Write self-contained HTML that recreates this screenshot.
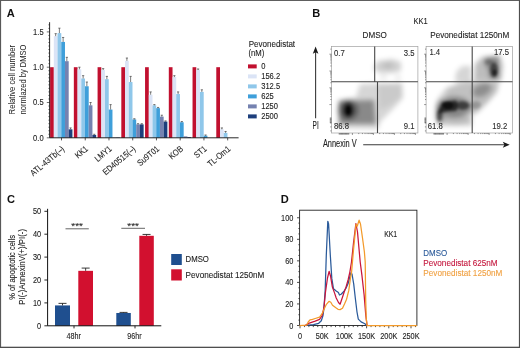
<!DOCTYPE html>
<html><head><meta charset="utf-8"><style>
html,body{margin:0;padding:0;background:#fff;}
svg{display:block;will-change:transform;}
</style></head><body>
<svg width="520" height="348" viewBox="0 0 520 348">
<rect x="0" y="0" width="520" height="348" fill="#fff"/>
<rect x="50.10" y="67.20" width="3.72" height="70.60" fill="#c1102f"/>
<rect x="53.82" y="36.14" width="3.72" height="101.66" fill="#dbe4f6"/>
<path d="M55.68 36.14V33.67M54.58 33.67H56.78" stroke="#333" stroke-width="0.75" fill="none" opacity="0.85"/>
<rect x="57.54" y="33.10" width="3.72" height="104.70" fill="#8fc7ea"/>
<path d="M59.40 33.10V28.16M58.30 28.16H60.50" stroke="#333" stroke-width="0.75" fill="none" opacity="0.85"/>
<rect x="61.26" y="41.93" width="3.72" height="95.87" fill="#3f9fda"/>
<path d="M63.12 41.93V37.48M62.02 37.48H64.22" stroke="#333" stroke-width="0.75" fill="none" opacity="0.85"/>
<rect x="64.98" y="61.20" width="3.72" height="76.60" fill="#7582b0"/>
<path d="M66.84 61.20V57.32M65.74 57.32H67.94" stroke="#333" stroke-width="0.75" fill="none" opacity="0.85"/>
<rect x="68.70" y="129.33" width="3.72" height="8.47" fill="#1d3f7c"/>
<path d="M70.56 129.33V127.92M69.46 127.92H71.66" stroke="#333" stroke-width="0.75" fill="none" opacity="0.85"/>
<rect x="73.84" y="67.20" width="3.72" height="70.60" fill="#c1102f"/>
<rect x="77.56" y="69.32" width="3.72" height="68.48" fill="#dbe4f6"/>
<path d="M79.42 69.32V67.20M78.32 67.20H80.52" stroke="#333" stroke-width="0.75" fill="none" opacity="0.85"/>
<rect x="81.28" y="78.50" width="3.72" height="59.30" fill="#8fc7ea"/>
<path d="M83.14 78.50V75.67M82.04 75.67H84.24" stroke="#333" stroke-width="0.75" fill="none" opacity="0.85"/>
<rect x="85.00" y="86.26" width="3.72" height="51.54" fill="#3f9fda"/>
<path d="M86.86 86.26V82.03M85.76 82.03H87.96" stroke="#333" stroke-width="0.75" fill="none" opacity="0.85"/>
<rect x="88.72" y="105.32" width="3.72" height="32.48" fill="#7582b0"/>
<path d="M90.58 105.32V102.50M89.48 102.50H91.68" stroke="#333" stroke-width="0.75" fill="none" opacity="0.85"/>
<rect x="92.44" y="134.98" width="3.72" height="2.82" fill="#1d3f7c"/>
<path d="M94.30 134.98V134.27M93.20 134.27H95.40" stroke="#333" stroke-width="0.75" fill="none" opacity="0.85"/>
<rect x="97.58" y="67.20" width="3.72" height="70.60" fill="#c1102f"/>
<rect x="101.30" y="70.02" width="3.72" height="67.78" fill="#dbe4f6"/>
<path d="M103.16 70.02V68.61M102.06 68.61H104.26" stroke="#333" stroke-width="0.75" fill="none" opacity="0.85"/>
<rect x="105.02" y="79.20" width="3.72" height="58.60" fill="#8fc7ea"/>
<path d="M106.88 79.20V76.38M105.78 76.38H107.98" stroke="#333" stroke-width="0.75" fill="none" opacity="0.85"/>
<rect x="108.74" y="109.56" width="3.72" height="28.24" fill="#3f9fda"/>
<path d="M110.60 109.56V104.62M109.50 104.62H111.70" stroke="#333" stroke-width="0.75" fill="none" opacity="0.85"/>
<rect x="112.46" y="137.45" width="3.72" height="0.35" fill="#7582b0"/>
<rect x="116.18" y="137.45" width="3.72" height="0.35" fill="#1d3f7c"/>
<rect x="121.32" y="67.20" width="3.72" height="70.60" fill="#c1102f"/>
<rect x="125.04" y="60.85" width="3.72" height="76.95" fill="#dbe4f6"/>
<path d="M126.90 60.85V58.02M125.80 58.02H128.00" stroke="#333" stroke-width="0.75" fill="none" opacity="0.85"/>
<rect x="128.76" y="82.03" width="3.72" height="55.77" fill="#8fc7ea"/>
<path d="M130.62 82.03V76.38M129.52 76.38H131.72" stroke="#333" stroke-width="0.75" fill="none" opacity="0.85"/>
<rect x="132.48" y="119.44" width="3.72" height="18.36" fill="#3f9fda"/>
<path d="M134.34 119.44V118.74M133.24 118.74H135.44" stroke="#333" stroke-width="0.75" fill="none" opacity="0.85"/>
<rect x="136.20" y="124.39" width="3.72" height="13.41" fill="#7582b0"/>
<path d="M138.06 124.39V123.68M136.96 123.68H139.16" stroke="#333" stroke-width="0.75" fill="none" opacity="0.85"/>
<rect x="139.92" y="124.39" width="3.72" height="13.41" fill="#1d3f7c"/>
<path d="M141.78 124.39V123.68M140.68 123.68H142.88" stroke="#333" stroke-width="0.75" fill="none" opacity="0.85"/>
<rect x="145.06" y="67.20" width="3.72" height="70.60" fill="#c1102f"/>
<rect x="148.78" y="94.73" width="3.72" height="43.07" fill="#dbe4f6"/>
<path d="M150.64 94.73V91.91M149.54 91.91H151.74" stroke="#333" stroke-width="0.75" fill="none" opacity="0.85"/>
<rect x="152.50" y="105.32" width="3.72" height="32.48" fill="#8fc7ea"/>
<path d="M154.36 105.32V104.62M153.26 104.62H155.46" stroke="#333" stroke-width="0.75" fill="none" opacity="0.85"/>
<rect x="156.22" y="108.15" width="3.72" height="29.65" fill="#3f9fda"/>
<path d="M158.08 108.15V107.44M156.98 107.44H159.18" stroke="#333" stroke-width="0.75" fill="none" opacity="0.85"/>
<rect x="159.94" y="116.62" width="3.72" height="21.18" fill="#7582b0"/>
<path d="M161.80 116.62V115.21M160.70 115.21H162.90" stroke="#333" stroke-width="0.75" fill="none" opacity="0.85"/>
<rect x="163.66" y="121.56" width="3.72" height="16.24" fill="#1d3f7c"/>
<path d="M165.52 121.56V120.86M164.42 120.86H166.62" stroke="#333" stroke-width="0.75" fill="none" opacity="0.85"/>
<rect x="168.80" y="67.20" width="3.72" height="70.60" fill="#c1102f"/>
<rect x="172.52" y="77.08" width="3.72" height="60.72" fill="#dbe4f6"/>
<path d="M174.38 77.08V75.67M173.28 75.67H175.48" stroke="#333" stroke-width="0.75" fill="none" opacity="0.85"/>
<rect x="176.24" y="94.03" width="3.72" height="43.77" fill="#8fc7ea"/>
<path d="M178.10 94.03V91.91M177.00 91.91H179.20" stroke="#333" stroke-width="0.75" fill="none" opacity="0.85"/>
<rect x="179.96" y="122.27" width="3.72" height="15.53" fill="#3f9fda"/>
<path d="M181.82 122.27V121.56M180.72 121.56H182.92" stroke="#333" stroke-width="0.75" fill="none" opacity="0.85"/>
<rect x="183.68" y="136.39" width="3.72" height="1.41" fill="#7582b0"/>
<rect x="187.40" y="137.09" width="3.72" height="0.71" fill="#1d3f7c"/>
<rect x="192.54" y="67.20" width="3.72" height="70.60" fill="#c1102f"/>
<rect x="196.26" y="70.02" width="3.72" height="67.78" fill="#dbe4f6"/>
<path d="M198.12 70.02V68.97M197.02 68.97H199.22" stroke="#333" stroke-width="0.75" fill="none" opacity="0.85"/>
<rect x="199.98" y="91.91" width="3.72" height="45.89" fill="#8fc7ea"/>
<path d="M201.84 91.91V89.79M200.74 89.79H202.94" stroke="#333" stroke-width="0.75" fill="none" opacity="0.85"/>
<rect x="203.70" y="135.68" width="3.72" height="2.12" fill="#3f9fda"/>
<path d="M205.56 135.68V134.98M204.46 134.98H206.66" stroke="#333" stroke-width="0.75" fill="none" opacity="0.85"/>
<rect x="216.28" y="67.20" width="3.72" height="70.60" fill="#c1102f"/>
<rect x="220.00" y="129.33" width="3.72" height="8.47" fill="#dbe4f6"/>
<path d="M221.86 129.33V127.92M220.76 127.92H222.96" stroke="#333" stroke-width="0.75" fill="none" opacity="0.85"/>
<rect x="223.72" y="132.86" width="3.72" height="4.94" fill="#8fc7ea"/>
<path d="M225.58 132.86V131.45M224.48 131.45H226.68" stroke="#333" stroke-width="0.75" fill="none" opacity="0.85"/>
<path d="M49.6 22.2V137.8H238.6" stroke="#111" stroke-width="0.9" fill="none"/>
<path d="M46.80 137.80H49.6M48.40 134.27H49.6M48.40 130.74H49.6M48.40 127.21H49.6M48.40 123.68H49.6M48.40 120.15H49.6M48.40 116.62H49.6M48.40 113.09H49.6M48.40 109.56H49.6M48.40 106.03H49.6M46.80 102.50H49.6M48.40 98.97H49.6M48.40 95.44H49.6M48.40 91.91H49.6M48.40 88.38H49.6M48.40 84.85H49.6M48.40 81.32H49.6M48.40 77.79H49.6M48.40 74.26H49.6M48.40 70.73H49.6M46.80 67.20H49.6M48.40 63.67H49.6M48.40 60.14H49.6M48.40 56.61H49.6M48.40 53.08H49.6M48.40 49.55H49.6M48.40 46.02H49.6M48.40 42.49H49.6M48.40 38.96H49.6M48.40 35.43H49.6M46.80 31.90H49.6M48.40 28.37H49.6M48.40 24.84H49.6" stroke="#111" stroke-width="0.6" fill="none"/>
<text transform="translate(43.60,140.50)" font-size="8.4" text-anchor="end" fill="#222" font-family="Liberation Sans, sans-serif" textLength="10.51" lengthAdjust="spacingAndGlyphs" stroke="#222" stroke-width="0.1">0.0</text>
<text transform="translate(43.60,105.20)" font-size="8.4" text-anchor="end" fill="#222" font-family="Liberation Sans, sans-serif" textLength="10.51" lengthAdjust="spacingAndGlyphs" stroke="#222" stroke-width="0.1">0.5</text>
<text transform="translate(43.60,69.90)" font-size="8.4" text-anchor="end" fill="#222" font-family="Liberation Sans, sans-serif" textLength="10.51" lengthAdjust="spacingAndGlyphs" stroke="#222" stroke-width="0.1">1.0</text>
<text transform="translate(43.60,34.60)" font-size="8.4" text-anchor="end" fill="#222" font-family="Liberation Sans, sans-serif" textLength="10.51" lengthAdjust="spacingAndGlyphs" stroke="#222" stroke-width="0.1">1.5</text>
<path d="M61.50 137.8V140.4M85.24 137.8V140.4M108.98 137.8V140.4M132.72 137.8V140.4M156.46 137.8V140.4M180.20 137.8V140.4M203.94 137.8V140.4M227.68 137.8V140.4" stroke="#111" stroke-width="0.7" fill="none"/>
<text transform="translate(65.00,149.80) rotate(-40)" font-size="8.8" text-anchor="end" fill="#222" font-family="Liberation Sans, sans-serif" textLength="41.35" lengthAdjust="spacingAndGlyphs" stroke="#222" stroke-width="0.1">ATL-43Tb(–)</text>
<text transform="translate(88.74,149.80) rotate(-40)" font-size="8.8" text-anchor="end" fill="#222" font-family="Liberation Sans, sans-serif" textLength="13.97" lengthAdjust="spacingAndGlyphs" stroke="#222" stroke-width="0.1">KK1</text>
<text transform="translate(112.48,149.80) rotate(-40)" font-size="8.8" text-anchor="end" fill="#222" font-family="Liberation Sans, sans-serif" textLength="19.31" lengthAdjust="spacingAndGlyphs" stroke="#222" stroke-width="0.1">LMY1</text>
<text transform="translate(136.22,149.80) rotate(-40)" font-size="8.8" text-anchor="end" fill="#222" font-family="Liberation Sans, sans-serif" textLength="39.86" lengthAdjust="spacingAndGlyphs" stroke="#222" stroke-width="0.1">ED40515(–)</text>
<text transform="translate(159.96,149.80) rotate(-40)" font-size="8.8" text-anchor="end" fill="#222" font-family="Liberation Sans, sans-serif" textLength="25.89" lengthAdjust="spacingAndGlyphs" stroke="#222" stroke-width="0.1">Su9T01</text>
<text transform="translate(183.70,149.80) rotate(-40)" font-size="8.8" text-anchor="end" fill="#222" font-family="Liberation Sans, sans-serif" textLength="15.61" lengthAdjust="spacingAndGlyphs" stroke="#222" stroke-width="0.1">KOB</text>
<text transform="translate(207.44,149.80) rotate(-40)" font-size="8.8" text-anchor="end" fill="#222" font-family="Liberation Sans, sans-serif" textLength="13.56" lengthAdjust="spacingAndGlyphs" stroke="#222" stroke-width="0.1">ST1</text>
<text transform="translate(231.18,149.80) rotate(-40)" font-size="8.8" text-anchor="end" fill="#222" font-family="Liberation Sans, sans-serif" textLength="27.10" lengthAdjust="spacingAndGlyphs" stroke="#222" stroke-width="0.1">TL-Om1</text>
<text transform="translate(15.2,114.4) rotate(-90)" font-size="8.8" fill="#222" font-family="Liberation Sans, sans-serif" textLength="69.4" lengthAdjust="spacingAndGlyphs">Relative cell number</text>
<text transform="translate(25.9,114.4) rotate(-90)" font-size="8.8" fill="#222" font-family="Liberation Sans, sans-serif" textLength="69.7" lengthAdjust="spacingAndGlyphs">normlazed by DMSO</text>
<text transform="translate(248.70,46.50)" font-size="8.4" text-anchor="start" fill="#222" font-family="Liberation Sans, sans-serif" textLength="46.40" lengthAdjust="spacingAndGlyphs" stroke="#222" stroke-width="0.1">Pevonedistat</text>
<text transform="translate(248.50,56.00)" font-size="8.4" text-anchor="start" fill="#222" font-family="Liberation Sans, sans-serif" textLength="15.88" lengthAdjust="spacingAndGlyphs" stroke="#222" stroke-width="0.1">(nM)</text>
<rect x="248" y="64.40" width="8.7" height="4" fill="#c1102f"/>
<text transform="translate(261.20,69.40)" font-size="8.4" text-anchor="start" fill="#222" font-family="Liberation Sans, sans-serif" textLength="4.20" lengthAdjust="spacingAndGlyphs" stroke="#222" stroke-width="0.1">0</text>
<rect x="248" y="74.40" width="8.7" height="4" fill="#dbe4f6"/>
<text transform="translate(261.20,79.40)" font-size="8.4" text-anchor="start" fill="#222" font-family="Liberation Sans, sans-serif" textLength="18.92" lengthAdjust="spacingAndGlyphs" stroke="#222" stroke-width="0.1">156.2</text>
<rect x="248" y="84.40" width="8.7" height="4" fill="#8fc7ea"/>
<text transform="translate(261.20,89.40)" font-size="8.4" text-anchor="start" fill="#222" font-family="Liberation Sans, sans-serif" textLength="18.92" lengthAdjust="spacingAndGlyphs" stroke="#222" stroke-width="0.1">312.5</text>
<rect x="248" y="94.40" width="8.7" height="4" fill="#3f9fda"/>
<text transform="translate(261.20,99.40)" font-size="8.4" text-anchor="start" fill="#222" font-family="Liberation Sans, sans-serif" textLength="12.61" lengthAdjust="spacingAndGlyphs" stroke="#222" stroke-width="0.1">625</text>
<rect x="248" y="104.40" width="8.7" height="4" fill="#7582b0"/>
<text transform="translate(261.20,109.40)" font-size="8.4" text-anchor="start" fill="#222" font-family="Liberation Sans, sans-serif" textLength="16.82" lengthAdjust="spacingAndGlyphs" stroke="#222" stroke-width="0.1">1250</text>
<rect x="248" y="114.40" width="8.7" height="4" fill="#1d3f7c"/>
<text transform="translate(261.20,119.40)" font-size="8.4" text-anchor="start" fill="#222" font-family="Liberation Sans, sans-serif" textLength="16.82" lengthAdjust="spacingAndGlyphs" stroke="#222" stroke-width="0.1">2500</text>
<text x="6.8" y="16.8" font-size="11.1" font-weight="bold" fill="#111" font-family="Liberation Sans, sans-serif">A</text>
<text x="312.3" y="16.7" font-size="11.1" font-weight="bold" fill="#111" font-family="Liberation Sans, sans-serif">B</text>
<text x="7.0" y="202.6" font-size="11.1" font-weight="bold" fill="#111" font-family="Liberation Sans, sans-serif">C</text>
<text x="280.7" y="202.6" font-size="11.1" font-weight="bold" fill="#111" font-family="Liberation Sans, sans-serif">D</text>
<defs>
<filter id="blur3" x="-50%" y="-50%" width="200%" height="200%"><feGaussianBlur stdDeviation="2.6"/></filter>
<filter id="blur2" x="-50%" y="-50%" width="200%" height="200%"><feGaussianBlur stdDeviation="1.8"/></filter>
<filter id="blur1" x="-50%" y="-50%" width="200%" height="200%"><feGaussianBlur stdDeviation="1.1"/></filter>
<clipPath id="cp1"><rect x="331.5" y="46.5" width="86.3" height="86.4"/></clipPath>
<clipPath id="cp2"><rect x="426.2" y="46.5" width="86.2" height="86.4"/></clipPath>
</defs>
<g clip-path="url(#cp1)">
<g filter="url(#blur3)" fill="#000">
<path d="M373 69 L377 61 L392 59 L401 62 L401 71 L393 73 L380 73Z" fill-opacity="0.18"/>
<ellipse cx="388" cy="65.5" rx="6" ry="3" fill-opacity="0.1"/>
<ellipse cx="383.5" cy="77" rx="3.5" ry="2.2" fill-opacity="0.1"/>
<ellipse cx="398" cy="77.5" rx="3" ry="2.2" fill-opacity="0.1"/>
<path d="M338 128 L338 100 L356 97 L360 84 L402 83 L403 98 L394 108 L380 122 L378 129Z" fill-opacity="0.16"/>
<path d="M378 84 L402 84 L402 96 L392 104 L380 110Z" fill-opacity="0.06"/>
<path d="M339 124 L339 101 L374 100 L376 124Z" fill-opacity="0.36"/>
<ellipse cx="348" cy="110" rx="10" ry="10" fill-opacity="0.4"/>
</g>
<g filter="url(#blur2)" fill="#000">
<ellipse cx="348.3" cy="110" rx="5.2" ry="7.2" fill-opacity="0.48"/>
</g>
<g filter="url(#blur1)" fill="#000">
<ellipse cx="348.3" cy="110.3" rx="2.6" ry="4.2" fill-opacity="0.85"/>
</g>
</g>
<g clip-path="url(#cp2)">
<g filter="url(#blur3)" fill="#000">
<path d="M474 81 L475 64 L482 57 L500 55 L503 66 L501 81Z" fill-opacity="0.26"/>
<path d="M485 58 L498 57 L499 78 L490 79 L488 68 L485 65Z" fill-opacity="0.32"/>
<path d="M455 82 L456 72 L462 66 L471 66 L471 82Z" fill-opacity="0.16"/>
<path d="M437 126 L437 100 L446 88 L460 83 L472 82 L472 126Z" fill-opacity="0.18"/>
<path d="M446 100 L448 88 L460 83 L472 82 L472 100Z" fill-opacity="0.08"/>
<path d="M472 82 L499 82 L497 92 L488 102 L478 112 L472 115Z" fill-opacity="0.26"/>
<ellipse cx="482" cy="90" rx="10" ry="6" transform="rotate(-25 482 90)" fill-opacity="0.25"/>
<ellipse cx="454" cy="107" rx="18" ry="10" fill-opacity="0.35"/>
<ellipse cx="456" cy="119" rx="14" ry="5" fill-opacity="0.12"/>
<ellipse cx="439.5" cy="115" rx="4" ry="8" fill-opacity="0.35"/>
</g>
<g filter="url(#blur2)" fill="#000">
<ellipse cx="494" cy="70" rx="4" ry="7.5" fill-opacity="0.5"/>
<ellipse cx="488.5" cy="62" rx="4" ry="2.8" fill-opacity="0.18"/>
<path d="M438 113 L442 102 L455 100.5 L457 101 L457 110.5 L455 111 L444 112Z" fill-opacity="0.7"/>
<ellipse cx="462.5" cy="105.5" rx="7" ry="4.2" fill-opacity="0.55"/>
<ellipse cx="476" cy="105" rx="5" ry="4" fill-opacity="0.2"/>
<ellipse cx="439.5" cy="116" rx="2.6" ry="5.5" fill-opacity="0.48"/>
</g>
<g filter="url(#blur1)" fill="#000">
<ellipse cx="448" cy="105.5" rx="5.5" ry="3.5" fill-opacity="0.6"/>
<ellipse cx="494.5" cy="72.5" rx="2" ry="3" fill-opacity="0.5"/>
</g>
</g>
<rect x="331.4" y="46.4" width="86.5" height="86.6" fill="none" stroke="#a0a0a0" stroke-width="0.7"/>
<path d="M339.20 133.00v1.6M340.00 133.00v1.6M340.80 133.00v1.6M341.60 133.00v1.6M342.40 133.00v1.6M343.20 133.00v1.6M344.00 133.00v1.6M344.80 133.00v1.6M345.60 133.00v1.6M346.40 133.00v1.6M347.20 133.00v1.6M348.00 133.00v1.6M348.80 133.00v1.6M352.40 133.00v2.0M358.72 133.00v1.1M362.42 133.00v1.1M365.04 133.00v1.1M367.08 133.00v1.1M368.74 133.00v1.1M370.15 133.00v1.1M371.36 133.00v1.1M372.44 133.00v1.1M373.40 133.00v2.0M379.72 133.00v1.1M383.42 133.00v1.1M386.04 133.00v1.1M388.08 133.00v1.1M389.74 133.00v1.1M391.15 133.00v1.1M392.36 133.00v1.1M393.44 133.00v1.1M394.40 133.00v2.0M400.72 133.00v1.1M404.42 133.00v1.1M407.04 133.00v1.1M409.08 133.00v1.1M410.74 133.00v1.1M412.15 133.00v1.1M413.36 133.00v1.1M414.44 133.00v1.1M415.40 133.00v2.0M331.40 117.90h-1.6M331.40 118.70h-1.6M331.40 119.50h-1.6M331.40 120.30h-1.6M331.40 121.10h-1.6M331.40 121.90h-1.6M331.40 122.70h-1.6M331.40 104.60h-2.0M331.40 99.54h-1.1M331.40 96.58h-1.1M331.40 94.49h-1.1M331.40 92.86h-1.1M331.40 91.53h-1.1M331.40 90.40h-1.1M331.40 89.43h-1.1M331.40 88.57h-1.1M331.40 87.80h-2.0M331.40 82.74h-1.1M331.40 79.78h-1.1M331.40 77.69h-1.1M331.40 76.06h-1.1M331.40 74.73h-1.1M331.40 73.60h-1.1M331.40 72.63h-1.1M331.40 71.77h-1.1M331.40 71.00h-2.0M331.40 65.94h-1.1M331.40 62.98h-1.1M331.40 60.89h-1.1M331.40 59.26h-1.1M331.40 57.93h-1.1M331.40 56.80h-1.1M331.40 55.83h-1.1M331.40 54.97h-1.1M331.40 54.20h-2.0M331.40 49.14h-1.1M331.40 122.90h-1.2M331.40 126.90h-1.2M331.40 130.90h-1.2" stroke="#333" stroke-width="0.5" fill="none"/>
<path d="M374.7 46.4V81.7M331.4 81.7H417.9M377.5 81.7V133.0" stroke="#474747" stroke-width="1.1" fill="none"/>
<text transform="translate(334.00,55.50)" font-size="8.4" text-anchor="start" fill="#2a2a2a" font-family="Liberation Sans, sans-serif" textLength="10.74" lengthAdjust="spacingAndGlyphs" stroke="#2a2a2a" stroke-width="0.1">0.7</text>
<text transform="translate(414.50,55.50)" font-size="8.4" text-anchor="end" fill="#2a2a2a" font-family="Liberation Sans, sans-serif" textLength="10.74" lengthAdjust="spacingAndGlyphs" stroke="#2a2a2a" stroke-width="0.1">3.5</text>
<text transform="translate(334.00,128.60)" font-size="8.4" text-anchor="start" fill="#2a2a2a" font-family="Liberation Sans, sans-serif" textLength="15.04" lengthAdjust="spacingAndGlyphs" stroke="#2a2a2a" stroke-width="0.1">86.8</text>
<text transform="translate(414.50,128.60)" font-size="8.4" text-anchor="end" fill="#2a2a2a" font-family="Liberation Sans, sans-serif" textLength="10.74" lengthAdjust="spacingAndGlyphs" stroke="#2a2a2a" stroke-width="0.1">9.1</text>
<rect x="426.1" y="46.4" width="86.4" height="86.6" fill="none" stroke="#a0a0a0" stroke-width="0.7"/>
<path d="M433.90 133.00v1.6M434.70 133.00v1.6M435.50 133.00v1.6M436.30 133.00v1.6M437.10 133.00v1.6M437.90 133.00v1.6M438.70 133.00v1.6M439.50 133.00v1.6M440.30 133.00v1.6M441.10 133.00v1.6M441.90 133.00v1.6M442.70 133.00v1.6M443.50 133.00v1.6M447.10 133.00v2.0M453.42 133.00v1.1M457.12 133.00v1.1M459.74 133.00v1.1M461.78 133.00v1.1M463.44 133.00v1.1M464.85 133.00v1.1M466.06 133.00v1.1M467.14 133.00v1.1M468.10 133.00v2.0M474.42 133.00v1.1M478.12 133.00v1.1M480.74 133.00v1.1M482.78 133.00v1.1M484.44 133.00v1.1M485.85 133.00v1.1M487.06 133.00v1.1M488.14 133.00v1.1M489.10 133.00v2.0M495.42 133.00v1.1M499.12 133.00v1.1M501.74 133.00v1.1M503.78 133.00v1.1M505.44 133.00v1.1M506.85 133.00v1.1M508.06 133.00v1.1M509.14 133.00v1.1M510.10 133.00v2.0M426.10 117.90h-1.6M426.10 118.70h-1.6M426.10 119.50h-1.6M426.10 120.30h-1.6M426.10 121.10h-1.6M426.10 121.90h-1.6M426.10 122.70h-1.6M426.10 104.60h-2.0M426.10 99.54h-1.1M426.10 96.58h-1.1M426.10 94.49h-1.1M426.10 92.86h-1.1M426.10 91.53h-1.1M426.10 90.40h-1.1M426.10 89.43h-1.1M426.10 88.57h-1.1M426.10 87.80h-2.0M426.10 82.74h-1.1M426.10 79.78h-1.1M426.10 77.69h-1.1M426.10 76.06h-1.1M426.10 74.73h-1.1M426.10 73.60h-1.1M426.10 72.63h-1.1M426.10 71.77h-1.1M426.10 71.00h-2.0M426.10 65.94h-1.1M426.10 62.98h-1.1M426.10 60.89h-1.1M426.10 59.26h-1.1M426.10 57.93h-1.1M426.10 56.80h-1.1M426.10 55.83h-1.1M426.10 54.97h-1.1M426.10 54.20h-2.0M426.10 49.14h-1.1M426.10 122.90h-1.2M426.10 126.90h-1.2M426.10 130.90h-1.2" stroke="#333" stroke-width="0.5" fill="none"/>
<path d="M472.2 46.4V81.7M426.1 81.7H512.5M472.2 81.7V133.0" stroke="#474747" stroke-width="1.1" fill="none"/>
<text transform="translate(429.40,54.50)" font-size="8.4" text-anchor="start" fill="#2a2a2a" font-family="Liberation Sans, sans-serif" textLength="10.74" lengthAdjust="spacingAndGlyphs" stroke="#2a2a2a" stroke-width="0.1">1.4</text>
<text transform="translate(509.00,55.00)" font-size="8.4" text-anchor="end" fill="#2a2a2a" font-family="Liberation Sans, sans-serif" textLength="15.04" lengthAdjust="spacingAndGlyphs" stroke="#2a2a2a" stroke-width="0.1">17.5</text>
<text transform="translate(427.80,128.60)" font-size="8.4" text-anchor="start" fill="#2a2a2a" font-family="Liberation Sans, sans-serif" textLength="15.04" lengthAdjust="spacingAndGlyphs" stroke="#2a2a2a" stroke-width="0.1">61.8</text>
<text transform="translate(507.20,128.60)" font-size="8.4" text-anchor="end" fill="#2a2a2a" font-family="Liberation Sans, sans-serif" textLength="15.04" lengthAdjust="spacingAndGlyphs" stroke="#2a2a2a" stroke-width="0.1">19.2</text>
<text transform="translate(413.50,24.30)" font-size="8.8" text-anchor="start" fill="#222" font-family="Liberation Sans, sans-serif" textLength="14.20" lengthAdjust="spacingAndGlyphs" stroke="#222" stroke-width="0.1">KK1</text>
<text transform="translate(362.60,38.00)" font-size="8.6" text-anchor="start" fill="#222" font-family="Liberation Sans, sans-serif" textLength="24.30" lengthAdjust="spacingAndGlyphs" stroke="#222" stroke-width="0.1">DMSO</text>
<text transform="translate(430.20,38.00)" font-size="8.6" text-anchor="start" fill="#222" font-family="Liberation Sans, sans-serif" textLength="79.00" lengthAdjust="spacingAndGlyphs" stroke="#222" stroke-width="0.1">Pevonedistat 1250nM</text>
<path d="M315.6 118.3V50" stroke="#3a3a3a" stroke-width="1.1" fill="none"/>
<path d="M315.6 46.4L312.8 53.7L315.6 52.3L318.4 53.7Z" fill="#1a1a1a"/>
<text transform="translate(312.60,129.20)" font-size="10.0" text-anchor="start" fill="#222" font-family="Liberation Sans, sans-serif" textLength="6.10" lengthAdjust="spacingAndGlyphs" stroke="#222" stroke-width="0.1">PI</text>
<text transform="translate(322.90,147.00)" font-size="10.3" text-anchor="start" fill="#222" font-family="Liberation Sans, sans-serif" textLength="33.80" lengthAdjust="spacingAndGlyphs" stroke="#222" stroke-width="0.1">Annexin V</text>
<path d="M363.2 144.75H505" stroke="#3a3a3a" stroke-width="1.1" fill="none"/>
<path d="M509.7 144.75L502.8 141.8L504.4 144.75L502.8 147.7Z" fill="#1a1a1a"/>
<rect x="55" y="305.42" width="15" height="20.38" fill="#1f4f8f"/>
<path d="M62.50 305.42V303.36M58.50 303.36H66.50" stroke="#222" stroke-width="0.9" fill="none"/>
<rect x="78.3" y="270.84" width="14.7" height="54.96" fill="#d2102f"/>
<path d="M85.65 270.84V268.09M81.65 268.09H89.65" stroke="#222" stroke-width="0.9" fill="none"/>
<rect x="116.3" y="312.98" width="14.5" height="12.82" fill="#1f4f8f"/>
<path d="M123.55 312.98V312.40M119.55 312.40H127.55" stroke="#222" stroke-width="0.9" fill="none"/>
<rect x="139.3" y="235.80" width="14.5" height="90.00" fill="#d2102f"/>
<path d="M146.55 235.80V234.43M142.55 234.43H150.55" stroke="#222" stroke-width="0.9" fill="none"/>
<path d="M47.6 208.8V325.8H161.3" stroke="#111" stroke-width="1.0" fill="none"/>
<path d="M44.4 325.80H47.6M44.4 302.90H47.6M44.4 280.00H47.6M44.4 257.10H47.6M44.4 234.20H47.6M44.4 211.30H47.6M74 325.8v2.6M135 325.8v2.6" stroke="#111" stroke-width="0.9" fill="none"/>
<text transform="translate(41.10,328.70)" font-size="8.2" text-anchor="end" fill="#222" font-family="Liberation Sans, sans-serif" textLength="4.10" lengthAdjust="spacingAndGlyphs" stroke="#222" stroke-width="0.1">0</text>
<text transform="translate(41.10,305.80)" font-size="8.2" text-anchor="end" fill="#222" font-family="Liberation Sans, sans-serif" textLength="8.21" lengthAdjust="spacingAndGlyphs" stroke="#222" stroke-width="0.1">10</text>
<text transform="translate(41.10,282.90)" font-size="8.2" text-anchor="end" fill="#222" font-family="Liberation Sans, sans-serif" textLength="8.21" lengthAdjust="spacingAndGlyphs" stroke="#222" stroke-width="0.1">20</text>
<text transform="translate(41.10,260.00)" font-size="8.2" text-anchor="end" fill="#222" font-family="Liberation Sans, sans-serif" textLength="8.21" lengthAdjust="spacingAndGlyphs" stroke="#222" stroke-width="0.1">30</text>
<text transform="translate(41.10,237.10)" font-size="8.2" text-anchor="end" fill="#222" font-family="Liberation Sans, sans-serif" textLength="8.21" lengthAdjust="spacingAndGlyphs" stroke="#222" stroke-width="0.1">40</text>
<text transform="translate(41.10,214.20)" font-size="8.2" text-anchor="end" fill="#222" font-family="Liberation Sans, sans-serif" textLength="8.21" lengthAdjust="spacingAndGlyphs" stroke="#222" stroke-width="0.1">50</text>
<text transform="translate(73.80,338.60)" font-size="8.2" text-anchor="middle" fill="#222" font-family="Liberation Sans, sans-serif" textLength="14.40" lengthAdjust="spacingAndGlyphs" stroke="#222" stroke-width="0.1">48hr</text>
<text transform="translate(134.40,338.60)" font-size="8.2" text-anchor="middle" fill="#222" font-family="Liberation Sans, sans-serif" textLength="14.40" lengthAdjust="spacingAndGlyphs" stroke="#222" stroke-width="0.1">96hr</text>
<path d="M65.5 228.8H88.8M121.3 228.3H145" stroke="#555" stroke-width="0.9" fill="none"/>
<text transform="translate(77.10,229.00)" font-size="9.5" text-anchor="middle" fill="#222" font-family="Liberation Sans, sans-serif" textLength="11.50" lengthAdjust="spacingAndGlyphs" stroke="#222" stroke-width="0.1">***</text>
<text transform="translate(133.10,228.50)" font-size="9.5" text-anchor="middle" fill="#222" font-family="Liberation Sans, sans-serif" textLength="11.50" lengthAdjust="spacingAndGlyphs" stroke="#222" stroke-width="0.1">***</text>
<text transform="translate(15.20,299.70) rotate(-90)" font-size="8.4" text-anchor="start" fill="#222" font-family="Liberation Sans, sans-serif" textLength="64.60" lengthAdjust="spacingAndGlyphs" stroke="#222" stroke-width="0.1">% of apoptotic cells</text>
<text transform="translate(25.40,304.70) rotate(-90)" font-size="8.4" text-anchor="start" fill="#222" font-family="Liberation Sans, sans-serif" textLength="75.70" lengthAdjust="spacingAndGlyphs" stroke="#222" stroke-width="0.1">PI(-)AnnexinV(+)/PI(-)</text>
<rect x="171.2" y="254" width="10.6" height="11" fill="#1f4f8f"/>
<rect x="171.2" y="269.3" width="10.6" height="11.2" fill="#d2102f"/>
<text transform="translate(185.60,262.40)" font-size="8.4" text-anchor="start" fill="#222" font-family="Liberation Sans, sans-serif" textLength="23.30" lengthAdjust="spacingAndGlyphs" stroke="#222" stroke-width="0.1">DMSO</text>
<text transform="translate(185.60,277.90)" font-size="8.4" text-anchor="start" fill="#222" font-family="Liberation Sans, sans-serif" textLength="78.80" lengthAdjust="spacingAndGlyphs" stroke="#222" stroke-width="0.1">Pevonedistat 1250nM</text>
<rect x="299.6" y="210.2" width="117.3" height="115.3" fill="none" stroke="#222" stroke-width="0.9"/>
<path d="M297.00 325.50H299.6M298.40 320.11H299.6M298.40 314.73H299.6M298.40 309.34H299.6M297.00 303.95H299.6M298.40 298.56H299.6M298.40 293.18H299.6M298.40 287.79H299.6M297.00 282.40H299.6M298.40 277.01H299.6M298.40 271.62H299.6M298.40 266.24H299.6M297.00 260.85H299.6M298.40 255.46H299.6M298.40 250.07H299.6M298.40 244.69H299.6M297.00 239.30H299.6M298.40 233.91H299.6M298.40 228.53H299.6M298.40 223.14H299.6M297.00 217.75H299.6M300.00 325.5v2.8M304.44 325.5v1.6M308.88 325.5v1.6M313.32 325.5v1.6M317.76 325.5v1.6M322.20 325.5v2.8M326.64 325.5v1.6M331.08 325.5v1.6M335.52 325.5v1.6M339.96 325.5v1.6M344.40 325.5v2.8M348.84 325.5v1.6M353.28 325.5v1.6M357.72 325.5v1.6M362.16 325.5v1.6M366.60 325.5v2.8M371.04 325.5v1.6M375.48 325.5v1.6M379.92 325.5v1.6M384.36 325.5v1.6M388.80 325.5v2.8M393.24 325.5v1.6M397.68 325.5v1.6M402.12 325.5v1.6M406.56 325.5v1.6M411.00 325.5v2.8M415.44 325.5v1.6" stroke="#222" stroke-width="0.8" fill="none"/>
<text transform="translate(293.40,328.50)" font-size="8.2" text-anchor="end" fill="#222" font-family="Liberation Sans, sans-serif" textLength="4.10" lengthAdjust="spacingAndGlyphs" stroke="#222" stroke-width="0.1">0</text>
<text transform="translate(293.40,306.95)" font-size="8.2" text-anchor="end" fill="#222" font-family="Liberation Sans, sans-serif" textLength="8.21" lengthAdjust="spacingAndGlyphs" stroke="#222" stroke-width="0.1">20</text>
<text transform="translate(293.40,285.40)" font-size="8.2" text-anchor="end" fill="#222" font-family="Liberation Sans, sans-serif" textLength="8.21" lengthAdjust="spacingAndGlyphs" stroke="#222" stroke-width="0.1">40</text>
<text transform="translate(293.40,263.85)" font-size="8.2" text-anchor="end" fill="#222" font-family="Liberation Sans, sans-serif" textLength="8.21" lengthAdjust="spacingAndGlyphs" stroke="#222" stroke-width="0.1">60</text>
<text transform="translate(293.40,242.30)" font-size="8.2" text-anchor="end" fill="#222" font-family="Liberation Sans, sans-serif" textLength="8.21" lengthAdjust="spacingAndGlyphs" stroke="#222" stroke-width="0.1">80</text>
<text transform="translate(293.40,220.75)" font-size="8.2" text-anchor="end" fill="#222" font-family="Liberation Sans, sans-serif" textLength="12.31" lengthAdjust="spacingAndGlyphs" stroke="#222" stroke-width="0.1">100</text>
<text transform="translate(300.00,339.00)" font-size="8.2" text-anchor="middle" fill="#222" font-family="Liberation Sans, sans-serif" textLength="4.10" lengthAdjust="spacingAndGlyphs" stroke="#222" stroke-width="0.1">0</text>
<text transform="translate(322.20,339.00)" font-size="8.2" text-anchor="middle" fill="#222" font-family="Liberation Sans, sans-serif" textLength="13.13" lengthAdjust="spacingAndGlyphs" stroke="#222" stroke-width="0.1">50K</text>
<text transform="translate(344.40,339.00)" font-size="8.2" text-anchor="middle" fill="#222" font-family="Liberation Sans, sans-serif" textLength="17.23" lengthAdjust="spacingAndGlyphs" stroke="#222" stroke-width="0.1">100K</text>
<text transform="translate(366.60,339.00)" font-size="8.2" text-anchor="middle" fill="#222" font-family="Liberation Sans, sans-serif" textLength="17.23" lengthAdjust="spacingAndGlyphs" stroke="#222" stroke-width="0.1">150K</text>
<text transform="translate(388.80,339.00)" font-size="8.2" text-anchor="middle" fill="#222" font-family="Liberation Sans, sans-serif" textLength="17.23" lengthAdjust="spacingAndGlyphs" stroke="#222" stroke-width="0.1">200K</text>
<text transform="translate(411.00,339.00)" font-size="8.2" text-anchor="middle" fill="#222" font-family="Liberation Sans, sans-serif" textLength="17.23" lengthAdjust="spacingAndGlyphs" stroke="#222" stroke-width="0.1">250K</text>
<text transform="translate(384.20,236.60)" font-size="8.4" text-anchor="start" fill="#222" font-family="Liberation Sans, sans-serif" textLength="13.00" lengthAdjust="spacingAndGlyphs" stroke="#222" stroke-width="0.1">KK1</text>
<text transform="translate(423.30,256.10)" font-size="8.4" text-anchor="start" fill="#2a5a9a" font-family="Liberation Sans, sans-serif" textLength="23.90" lengthAdjust="spacingAndGlyphs" stroke="#2a5a9a" stroke-width="0.1">DMSO</text>
<text transform="translate(423.30,266.00)" font-size="8.4" text-anchor="start" fill="#c4153c" font-family="Liberation Sans, sans-serif" textLength="74.30" lengthAdjust="spacingAndGlyphs" stroke="#c4153c" stroke-width="0.1">Pevonedistat 625nM</text>
<text transform="translate(423.30,276.10)" font-size="8.4" text-anchor="start" fill="#f0a040" font-family="Liberation Sans, sans-serif" textLength="79.10" lengthAdjust="spacingAndGlyphs" stroke="#f0a040" stroke-width="0.1">Pevonedistat 1250nM</text>
<polyline points="306.5,325.6 308.3,325.0 313.5,324.6 318.7,323.3 321.3,320.7 323.0,315.5 323.9,308.6 325.2,290.0 326.3,255.0 327.8,221.3 328.6,224.0 330.3,255.0 331.8,278.4 333.5,288.8 336.2,291.0 338.4,292.6 339.5,295.0 341.1,294.2 343.8,291.5 346.0,288.2 348.2,283.3 350.0,276.0 351.0,272.6 352.0,274.0 353.7,283.9 355.3,298.0 357.0,312.0 358.3,319.1 361.1,321.9 364.9,323.8 366.7,325.6" fill="none" stroke="#2a5a9a" stroke-width="1.25" stroke-linejoin="round"/>
<polyline points="305.0,325.6 307.5,324.1 310.0,322.8 315.2,321.1 319.6,319.4 322.1,315.5 323.9,308.0 325.5,292.0 327.5,278.0 329.1,271.3 330.5,276.0 332.4,287.1 334.6,293.1 336.2,298.0 338.5,302.5 340.1,304.2 342.2,298.0 344.2,292.0 346.0,287.1 348.2,279.5 349.9,271.8 351.5,262.0 353.5,243.0 355.9,223.6 357.5,232.0 360.2,262.0 361.9,275.1 364.1,294.8 365.8,315.4 367.1,325.6" fill="none" stroke="#c8143c" stroke-width="1.25" stroke-linejoin="round"/>
<polyline points="299.5,325.6 306.6,325.2 308.2,322.0 310.0,319.8 312.5,319.4 315.2,318.5 319.6,317.2 322.6,312.9 323.9,309.5 326.4,304.3 329.0,301.3 330.8,302.3 332.5,305.2 335.9,307.8 338.0,309.3 340.1,309.6 342.5,308.3 344.5,304.0 346.6,299.2 348.8,290.4 350.5,278.0 351.5,272.9 353.5,250.0 356.0,224.5 357.3,226.0 359.1,220.2 360.5,224.0 362.5,238.0 364.4,252.0 365.2,262.0 365.7,300.0 366.3,319.0 367.1,325.6 416.9,325.6" fill="none" stroke="#f39a2a" stroke-width="1.25" stroke-linejoin="round"/>
<rect x="0" y="0" width="520" height="1" fill="#5e5e5e"/>
<rect x="0" y="0" width="1.1" height="348" fill="#585858"/>
<rect x="518.9" y="0" width="1.1" height="348" fill="#4e4e4e"/>
<rect x="0" y="346.7" width="520" height="1.3" fill="#4e4e4e"/>
</svg>
</body></html>
